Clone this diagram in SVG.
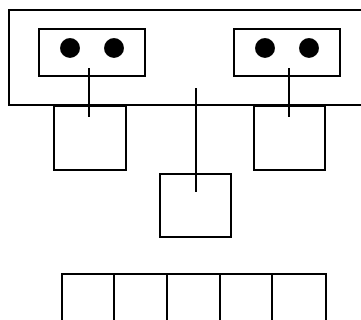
<svg xmlns="http://www.w3.org/2000/svg" width="361" height="320" viewBox="0 0 361 320">
<style>
.b{fill:none;stroke:#000;stroke-width:2}
.d{fill:#000}
.c{stroke:#000;stroke-width:2;fill:none}
</style>
<rect width="361" height="320" fill="#fff"/>
<g id="outer"><rect class="b" x="9" y="10" width="370" height="95"/></g>
<g id="left-panel"><rect class="b" x="39" y="29" width="106" height="47"/><circle class="d" cx="70" cy="48" r="10"/><circle class="d" cx="114" cy="48" r="10"/></g>
<g id="right-panel"><rect class="b" x="234" y="29" width="106" height="47"/><circle class="d" cx="265" cy="48" r="10"/><circle class="d" cx="309" cy="48" r="10"/></g>
<g id="left-box"><rect class="b" x="54" y="106" width="72" height="64"/></g>
<g id="right-box"><rect class="b" x="254" y="106" width="71" height="64"/></g>
<g id="center-box"><rect class="b" x="160" y="174" width="71" height="63"/></g>
<g id="bottom-row"><path class="b" d="M62 330V274H326V330M114 274V330M167 274V330M220 274V330M272 274V330"/></g>
<g id="connectors">
<path class="c" d="M89 68V117M289 68V117M196 88V192"/>
</g>
</svg>
